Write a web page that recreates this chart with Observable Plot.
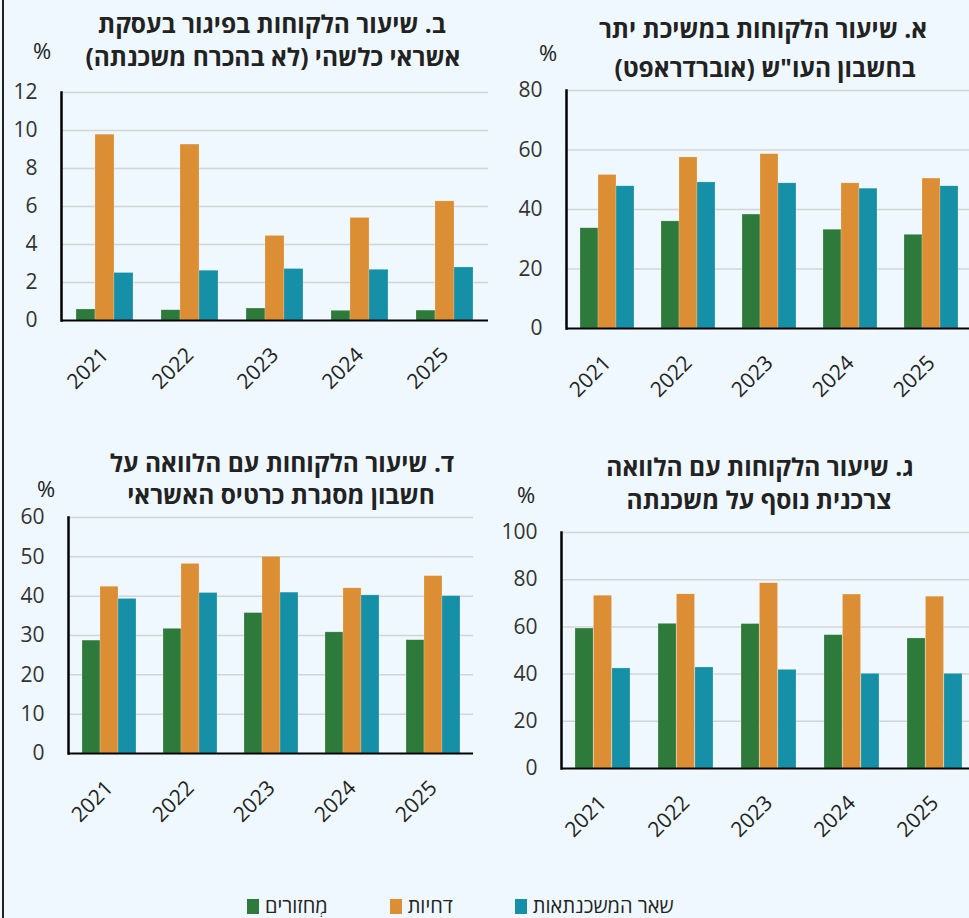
<!DOCTYPE html>
<html>
<head>
<meta charset="utf-8">
<script src="https://cdn.jsdelivr.net/npm/d3@7"></script>
<script src="https://cdn.jsdelivr.net/npm/@observablehq/plot@0.6"></script>
<style>
html, body { margin:0; padding:0; background:#eff8fe; overflow:hidden; width:969px; height:918px; }
#root { position:relative; width:969px; height:918px; overflow:hidden; font-family:"Open Sans","Liberation Sans","DejaVu Sans",sans-serif; color:#222; }
.border { position:absolute; left:2px; top:0; width:2px; height:918px; background:#222; }
.t { position:absolute; transform:translate(-50%,-50%); direction:rtl; font-weight:bold; font-size:24.5px; color:#222; white-space:nowrap; line-height:1; }
.pct { position:absolute; transform:translate(-50%,-50%); font-size:22px; color:#222; line-height:1; }
.chart { position:absolute; }
.legend { position:absolute; left:247px; top:906px; transform:translateY(-50%); display:flex; direction:ltr; gap:62px; align-items:center; font-size:20px; color:#222; }
.item { display:flex; align-items:center; gap:6px; }
.sw { width:12px; height:15px; display:inline-block; }
.lab { direction:rtl; white-space:nowrap; line-height:1; }
</style>
</head>
<body>
<div id="root"><div class="border"></div></div>
<script>
// ---- data ----
const years = ["2021", "2022", "2023", "2024", "2025"];
const series = ["מְחזורים", "דחיות", "שאר המשכנתאות"];
const colors = ["#2e7a3b", "#db8e33", "#1690a6"];

// Panel A: overdraft
const overdraftRefinanced = [33.7, 36.0, 38.3, 33.2, 31.5];
const overdraftDeferred   = [51.6, 57.5, 58.6, 48.8, 50.4];
const overdraftOther      = [47.8, 49.1, 48.8, 47.0, 47.8];
// Panel B: arrears
const arrearsRefinanced = [0.58, 0.54, 0.63, 0.51, 0.52];
const arrearsDeferred   = [9.78, 9.26, 4.45, 5.40, 6.27];
const arrearsOther      = [2.50, 2.62, 2.71, 2.67, 2.79];
// Panel C: additional consumer loan on mortgage
const loanRefinanced = [59.3, 61.3, 61.2, 56.5, 55.1];
const loanDeferred   = [73.2, 73.8, 78.5, 73.7, 72.8];
const loanOther      = [42.4, 42.8, 41.8, 40.1, 40.1];
// Panel D: loan on credit-card frame
const cardRefinanced = [28.7, 31.7, 35.7, 30.8, 28.8];
const cardDeferred   = [42.4, 48.2, 50.0, 42.0, 45.1];
const cardOther      = [39.3, 40.8, 40.9, 40.2, 40.0];

const titleA = ["א. שיעור הלקוחות במשיכת יתר", "בחשבון העו\"ש (אוברדראפט)"];
const titleB = ["ב. שיעור הלקוחות בפיגור בעסקת", "אשראי כלשהי (לא בהכרח משכנתה)"];
const titleC = ["ג. שיעור הלקוחות עם הלוואה", "צרכנית נוסף על משכנתה"];
const titleD = ["ד. שיעור הלקוחות עם הלוואה על", "חשבון מסגרת כרטיס האשראי"];

const ticksA = [0, 20, 40, 60, 80];
const ticksB = [0, 2, 4, 6, 8, 10, 12];
const ticksC = [0, 20, 40, 60, 80, 100];
const ticksD = [0, 10, 20, 30, 40, 50, 60];

// ---- layout ----
const panels = [
  { vals:[overdraftRefinanced, overdraftDeferred, overdraftOther], ticks:ticksA, title:titleA,
    box:{left:480, top:80, width:491, height:328, ml:86, mr:0, mt:10, mb:80},
    tpos:[[763,29],[765,68]], pct:[548,52] },
  { vals:[arrearsRefinanced, arrearsDeferred, arrearsOther], ticks:ticksB, title:titleB,
    box:{left:0, top:80, width:490, height:320, ml:61, mr:2, mt:12, mb:80},
    tpos:[[272,24],[273,57]], pct:[42,50] },
  { vals:[loanRefinanced, loanDeferred, loanOther], ticks:ticksC, title:titleC,
    box:{left:480, top:520, width:496, height:328, ml:81, mr:0, mt:12, mb:80},
    tpos:[[760,467],[759,500]], pct:[526,494] },
  { vals:[cardRefinanced, cardDeferred, cardOther], ticks:ticksD, title:titleD,
    box:{left:0, top:500, width:475, height:333, ml:68, mr:2, mt:17, mb:80},
    tpos:[[282,463],[281,495]], pct:[46,488] }
];

const root = document.getElementById("root");

for (const p of panels) {
  const b = p.box;
  const W = b.width - b.ml - b.mr;
  const w = 2 * W / 45; // single bar width (band = 2/3 of step, step = W/5)
  const data = [];
  series.forEach((s, si) => years.forEach((y, yi) => data.push({year:y, series:s, si, value:p.vals[si][yi]})));
  const insets = [[0, 2*w], [w, w], [2*w, 0]];
  const barMarks = series.map((s, si) => Plot.barY(data.filter(d => d.si === si), {
    x:"year", y:"value", fill:colors[si], insetLeft:insets[si][0], insetRight:insets[si][1],
    stroke:"#ffffff", strokeOpacity:0.35, strokeWidth:0.6
  }));
  const chart = Plot.plot({
    width:b.width, height:b.height,
    marginLeft:b.ml, marginRight:b.mr, marginTop:b.mt, marginBottom:b.mb,
    style:{background:"transparent", fontFamily:"'Open Sans','Liberation Sans',sans-serif", fontSize:"21px", overflow:"visible"},
    x:{type:"band", domain:years, paddingInner:1/3, paddingOuter:1/6, axis:null},
    y:{domain:[0, p.ticks[p.ticks.length-1]], axis:null},
    marks:[
      Plot.gridY(p.ticks.slice(1), {stroke:"#d4d4d4", strokeOpacity:1, strokeWidth:1.5}),
      ...barMarks,
      Plot.ruleY([0], {stroke:"#000", strokeWidth:2.2}),
      Plot.frame({anchor:"left", stroke:"#000", strokeWidth:2.5}),
      Plot.axisY(p.ticks, {tickSize:0, tickPadding:24, fontSize:21, color:"#333", label:null}),
      Plot.axisX({tickSize:0, tickPadding:31, tickRotate:-45, fontSize:21, color:"#222", label:null})
    ]
  });
  chart.classList.add("chart");
  chart.style.left = b.left + "px";
  chart.style.top = b.top + "px";
  root.appendChild(chart);

  p.title.forEach((line, i) => {
    const d = document.createElement("div");
    d.className = "t";
    d.textContent = line;
    d.style.left = p.tpos[i][0] + "px";
    d.style.top = p.tpos[i][1] + "px";
    root.appendChild(d);
  });
  const pc = document.createElement("div");
  pc.className = "pct";
  pc.textContent = "%";
  pc.style.left = p.pct[0] + "px";
  pc.style.top = p.pct[1] + "px";
  root.appendChild(pc);
}

// legend
const leg = document.createElement("div");
leg.className = "legend";
series.forEach((s, i) => {
  const it = document.createElement("div");
  it.className = "item";
  const sw = document.createElement("span");
  sw.className = "sw";
  sw.style.background = colors[i];
  const lb = document.createElement("span");
  lb.className = "lab";
  lb.textContent = s;
  it.appendChild(sw);
  it.appendChild(lb);
  leg.appendChild(it);
});
root.appendChild(leg);
</script>
</body>
</html>
